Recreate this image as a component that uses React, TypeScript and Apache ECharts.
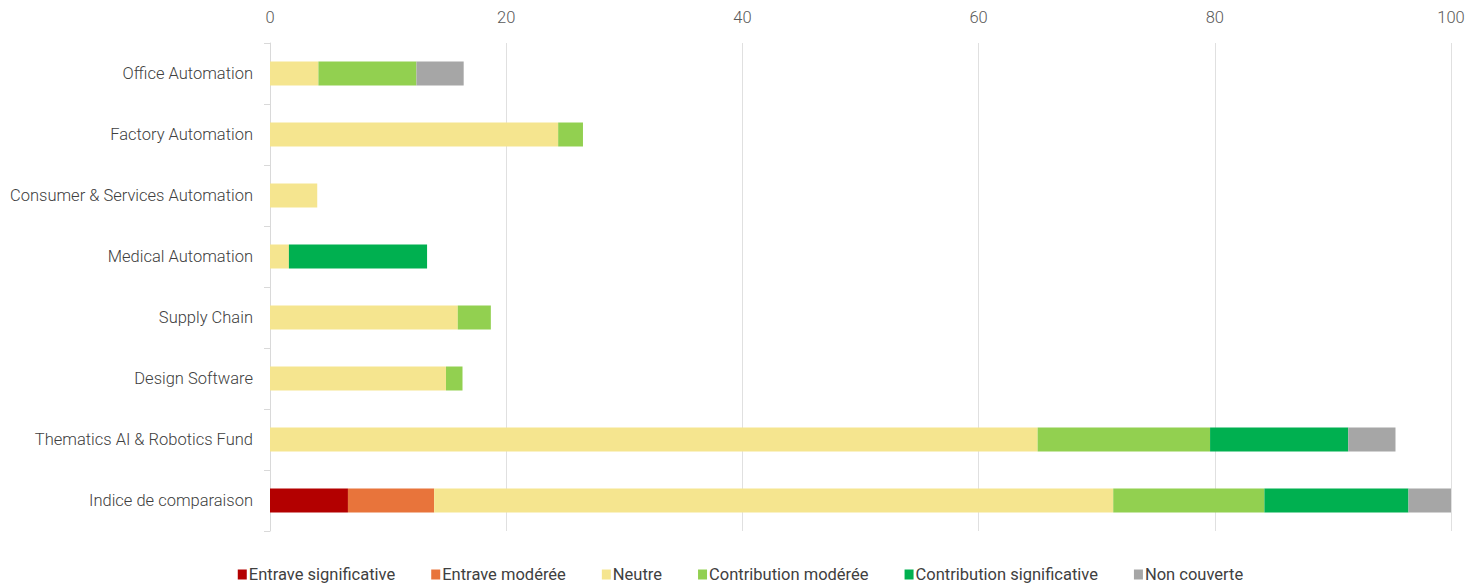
import React, { useEffect, useRef } from "react";
import * as echarts from "echarts";

const categories = [
  "Office Automation",
  "Factory Automation",
  "Consumer & Services Automation",
  "Medical Automation",
  "Supply Chain",
  "Design Software",
  "Thematics AI & Robotics Fund",
  "Indice de comparaison",
];

const seriesNames = [
  "Entrave significative",
  "Entrave modérée",
  "Neutre",
  "Contribution modérée",
  "Contribution significative",
  "Non couverte",
];

const entraveSignificative = [0, 0, 0, 0, 0, 0, 0, 6.6];
const entraveModeree = [0, 0, 0, 0, 0, 0, 0, 7.3];
const neutre = [4.1, 24.4, 4.0, 1.6, 15.9, 14.9, 65.0, 57.5];
const contributionModeree = [8.3, 2.1, 0, 0, 2.8, 1.4, 14.6, 12.8];
const contributionSignificative = [0, 0, 0, 11.7, 0, 0, 11.7, 12.2];
const nonCouverte = [4.0, 0, 0, 0, 0, 0, 4.0, 3.6];

const xTicks = { min: 0, max: 100, interval: 20 };

const colors = ["#B30000", "#E8743B", "#F5E58F", "#92D050", "#00B050", "#A6A6A6"];

const FONT = "Roboto";

export default function App() {
  const ref = useRef<HTMLDivElement>(null);
  useEffect(() => {
    if (!ref.current) return;
    const chart = echarts.init(ref.current, undefined, { renderer: "svg" });
    const values = [
      entraveSignificative,
      entraveModeree,
      neutre,
      contributionModeree,
      contributionSignificative,
      nonCouverte,
    ];
    chart.setOption({
      animation: false,
      textStyle: { fontFamily: FONT },
      grid: { left: 270, right: 30, top: 43, bottom: 53, containLabel: false },
      legend: {
        top: 566,
        left: "center",
        padding: 0,
        icon: "rect",
        itemWidth: 9,
        itemHeight: 10,
        itemGap: 36,
        textStyle: { fontFamily: FONT, fontSize: 16.5, fontWeight: 400, color: "#404040", padding: [0, 0, 0, -3] },
        data: seriesNames,
      },
      xAxis: {
        type: "value",
        position: "top",
        min: xTicks.min,
        max: xTicks.max,
        interval: xTicks.interval,
        axisLine: { show: false },
        axisTick: { show: false },
        axisLabel: { fontFamily: FONT, fontSize: 16.5, fontWeight: 300, color: "#595959", margin: 17 },
        splitLine: { show: true, lineStyle: { color: "#E0E0E0", width: 1 } },
      },
      yAxis: {
        type: "category",
        inverse: true,
        data: categories,
        axisLine: { show: true, lineStyle: { color: "#D9D9D9", width: 1 } },
        axisTick: { show: true, length: 6, lineStyle: { color: "#D9D9D9" } },
        axisLabel: { fontFamily: FONT, fontSize: 16.5, fontWeight: 300, color: "#404040", margin: 17 },
      },
      series: seriesNames.map((name, i) => ({
        name,
        type: "bar",
        stack: "total",
        barWidth: 24,
        data: values[i],
        itemStyle: { color: colors[i] },
        emphasis: { disabled: true },
      })),
    });
    return () => chart.dispose();
  }, []);
  return (
    <div
      ref={ref}
      style={{ position: "absolute", left: 0, top: 0, width: 1481, height: 584 }}
    />
  );
}
